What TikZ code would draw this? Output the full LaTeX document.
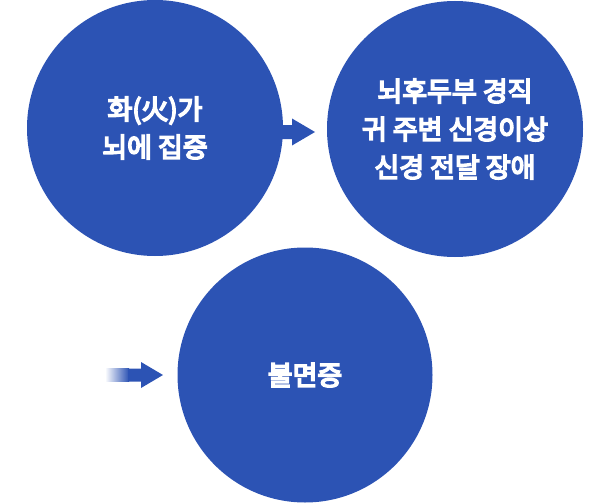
\documentclass[tikz,border=0pt]{standalone}
\usepackage{fontspec}
\setmainfont{Noto Sans CJK KR}
\newfontfamily\krbold{Noto Sans CJK KR}[FakeBold=6]
\definecolor{cblue}{RGB}{44,83,180}
\begin{document}
\begin{tikzpicture}[x=1pt,y=-1pt,
  bubble/.style={circle,fill=cblue,inner sep=0pt,text=white,align=center,
    font=\krbold\fontsize{27}{38}\selectfont},
  arrowfill/.style={fill=cblue}]
\useasboundingbox (0,0) rectangle (611,503);
\node[bubble,minimum size=256pt] (c1) at (155,128) {화(火)가\\뇌에 집중};
\node[bubble,minimum size=256pt] (c2) at (455,129) {뇌후두부 경직\\귀 주변 신경이상\\신경 전달 장애};
\node[bubble,minimum size=255pt] (c3) at (305,375) {불면증};
% arrow between circle 1 and circle 2
\coordinate (a1s) at (278,132);
\coordinate (a1t) at (315,132);
\fill[arrowfill] (a1s) ++(0,-7) -- ++(14,0) -- ++(0,-6.5) -- (a1t) -- ++(-23,13.5) -- ++(0,-6.5) -- ++(-14,0) -- cycle;
% arrow towards circle 3 with fading tail
\coordinate (a2s) at (105,375);
\coordinate (a2tip) at (163,375);
\shade[left color=white,right color=cblue] (a2s) ++(0,-6.5) rectangle ++(24,13);
\fill[arrowfill] (a2s) ++(23,-6.5) -- ++(13,0) -- ++(0,-6.5) -- (a2tip) -- ++(-22,13) -- ++(0,-6.5) -- ++(-13,0) -- cycle;
\end{tikzpicture}
\end{document}
